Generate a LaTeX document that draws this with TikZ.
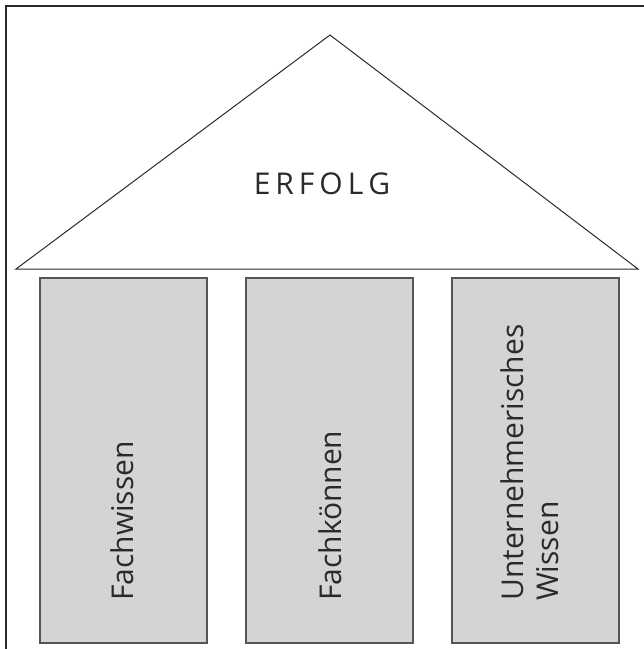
\documentclass[tikz,border=0pt]{standalone}
\usepackage{fontspec}
\setmainfont{Open Sans}
\definecolor{pillar}{HTML}{D3D4D6}
\definecolor{ink}{HTML}{2A2A2A}
\begin{document}
\begin{tikzpicture}[x=1pt,y=-1pt,
  frameline/.style={draw=ink, line width=1.6pt},
  roofline/.style={draw=ink, line width=1pt, line join=miter},
  pillarbox/.style={draw=ink!80, fill=pillar, line width=1.6pt},
  pillartext/.style={rotate=90, anchor=west, font=\fontsize{30}{35}\selectfont, text=ink, align=left, inner sep=0pt}]
\useasboundingbox (0,0) rectangle (644,649);
% frame (top and left)
\coordinate (fa) at (644,6);
\coordinate (fb) at (6,6);
\coordinate (fc) at (6,649);
\draw[frameline] (fa) -- (fb) -- (fc);
% roof
\coordinate (rl) at (16,269);
\coordinate (rt) at (330,35);
\coordinate (rr) at (638,269);
\draw[roofline] (rl) -- (rt) -- (rr) -- cycle;
\node[font=\fontsize{30}{35}\selectfont, text=ink] (erfolg) at (322,184) {E\hspace{5pt}R\hspace{5pt}F\hspace{5pt}O\hspace{5pt}L\hspace{5pt}G};
% pillars
\draw[pillarbox] (40,278) rectangle (207,643);
\draw[pillarbox] (246,278) rectangle (413,643);
\draw[pillarbox] (452,278) rectangle (619,643);
\node[pillartext] (p1) at (122,601) {Fachwissen};
\node[pillartext] (p2) at (330,601) {Fachkönnen};
\node[pillartext] (p3) at (530,601) {Unternehmerisches\\Wissen};
\end{tikzpicture}
\end{document}
